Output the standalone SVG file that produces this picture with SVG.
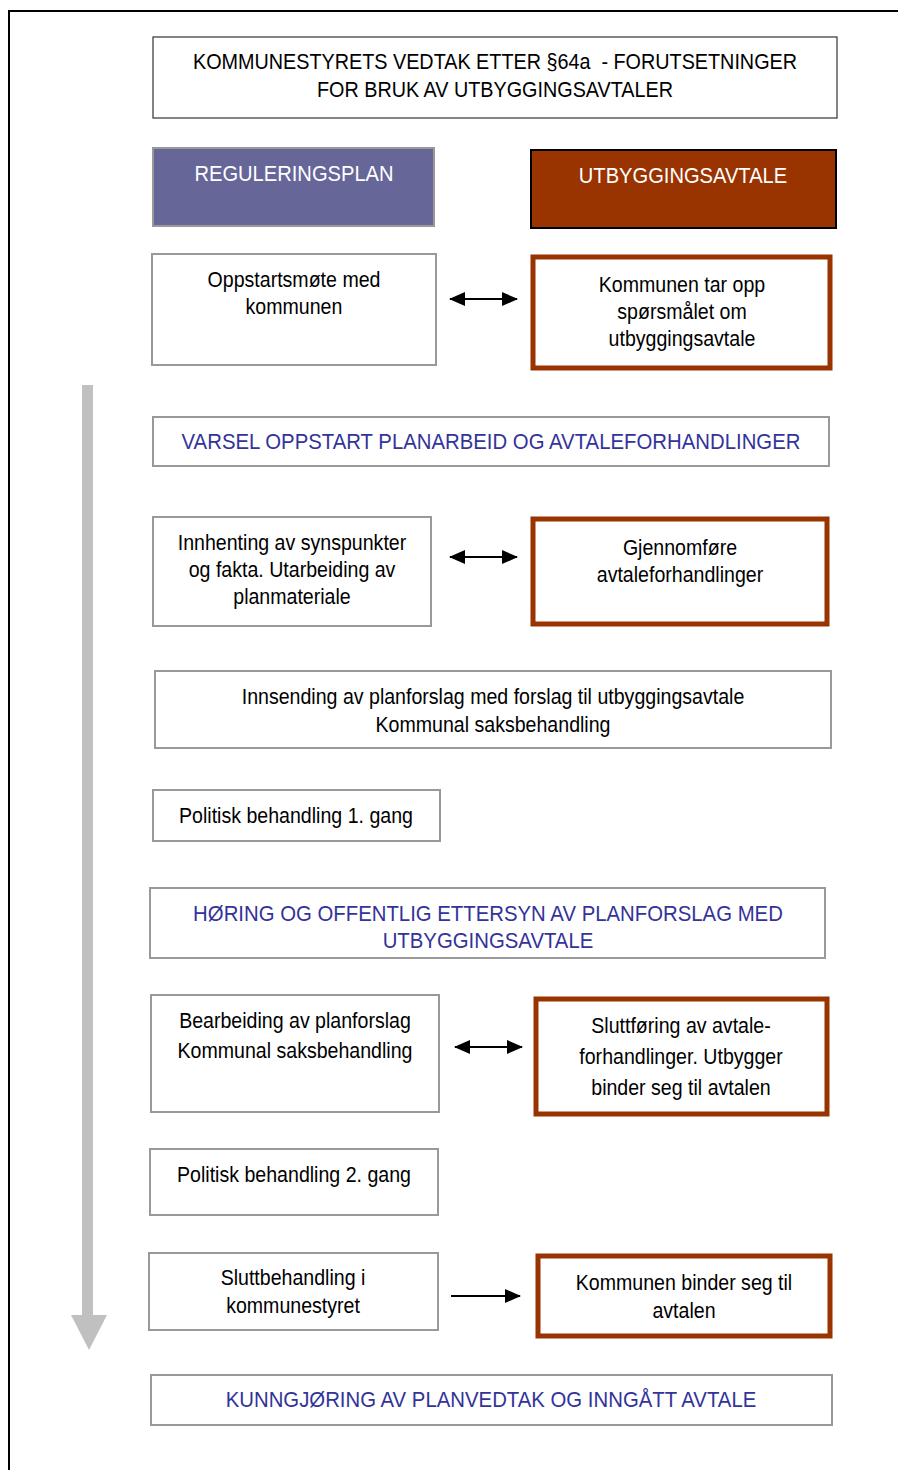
<svg xmlns="http://www.w3.org/2000/svg" width="898" height="1470" viewBox="0 0 898 1470">
<style>
text{font-family:"Liberation Sans",Arial,sans-serif;font-size:22px;text-anchor:middle;fill:#000;transform-box:fill-box;transform-origin:center;transform:scaleX(0.89)}
text.cap{transform:scaleX(0.915)}
text.ttl{transform:scaleX(0.9)}
text.blue{fill:#333399;transform:scaleX(0.925)}
.plain{fill:#fff;stroke:#999;stroke-width:2}
.title{fill:#fff;stroke:#333;stroke-width:1.2}
.avt{fill:#fff;stroke:#993300;stroke-width:5}
.wh{fill:#fff}
.conn{stroke:#000;stroke-width:2;fill:none}
</style>
<defs>
<marker id="ah" viewBox="0 0 16 14" refX="15" refY="7" markerWidth="16" markerHeight="14" markerUnits="userSpaceOnUse" orient="auto-start-reverse">
<path d="M0,0 L16,7 L0,14 z" fill="#000"/>
</marker>
</defs>
<rect width="898" height="1470" fill="#fff"/>
<path d="M9,1470 V11 H898" fill="none" stroke="#000" stroke-width="2"/>
<g id="timeline">
<rect x="82" y="385" width="11" height="932" fill="#c0c0c0"/>
<path d="M71,1315 H107 L89,1350 z" fill="#c0c0c0"/>
</g>
<g id="n-title"><rect class="title" x="153" y="37" width="684" height="81"/><text class="ttl" x="495" y="69">KOMMUNESTYRETS VEDTAK ETTER §64a&#160; - FORUTSETNINGER</text><text class="ttl" x="495" y="97">FOR BRUK AV UTBYGGINGSAVTALER</text></g>
<g id="n-reg"><rect x="153" y="148" width="281" height="78" fill="#666699" stroke="#999" stroke-width="2"/><text class="cap wh" x="294" y="181">REGULERINGSPLAN</text></g>
<g id="n-utb"><rect x="531" y="150" width="305" height="78" fill="#993300" stroke="#000" stroke-width="2"/><text class="cap wh" x="683" y="183">UTBYGGINGSAVTALE</text></g>
<g id="n-opp"><rect class="plain" x="152" y="254" width="284" height="111"/><text x="294" y="287">Oppstartsmøte med</text><text x="294" y="314">kommunen</text></g>
<g id="n-komtar"><rect class="avt" x="533" y="257" width="297" height="111"/><text x="682" y="292">Kommunen tar opp</text><text x="682" y="319">spørsmålet om</text><text x="682" y="346">utbyggingsavtale</text></g>
<g id="n-varsel"><rect class="plain" x="153" y="417" width="676" height="49"/><text class="blue" x="491" y="449">VARSEL OPPSTART PLANARBEID OG AVTALEFORHANDLINGER</text></g>
<g id="n-innh"><rect class="plain" x="153" y="517" width="278" height="109"/><text x="292" y="550">Innhenting av synspunkter</text><text x="292" y="577">og fakta. Utarbeiding av</text><text x="292" y="604">planmateriale</text></g>
<g id="n-gjen"><rect class="avt" x="533" y="519" width="294" height="105"/><text x="680" y="555">Gjennomføre</text><text x="680" y="582">avtaleforhandlinger</text></g>
<g id="n-innsend"><rect class="plain" x="155" y="671" width="676" height="77"/><text x="493" y="704">Innsending av planforslag med forslag til utbyggingsavtale</text><text x="493" y="732">Kommunal saksbehandling</text></g>
<g id="n-pol1"><rect class="plain" x="153" y="790" width="287" height="51"/><text x="296" y="823">Politisk behandling 1. gang</text></g>
<g id="n-horing"><rect class="plain" x="150" y="888" width="675" height="70"/><text class="blue" x="488" y="921">HØRING OG OFFENTLIG ETTERSYN AV PLANFORSLAG MED</text><text class="blue" x="488" y="948">UTBYGGINGSAVTALE</text></g>
<g id="n-bear"><rect class="plain" x="151" y="995" width="288" height="117"/><text x="295" y="1028">Bearbeiding av planforslag</text><text x="295" y="1058">Kommunal saksbehandling</text></g>
<g id="n-sluttf"><rect class="avt" x="536" y="999" width="291" height="115"/><text x="681" y="1033">Sluttføring av avtale-</text><text x="681" y="1064">forhandlinger. Utbygger</text><text x="681" y="1095">binder seg til avtalen</text></g>
<g id="n-pol2"><rect class="plain" x="150" y="1149" width="288" height="66"/><text x="294" y="1182">Politisk behandling 2. gang</text></g>
<g id="n-sluttb"><rect class="plain" x="149" y="1253" width="289" height="77"/><text x="293" y="1285">Sluttbehandling i</text><text x="293" y="1313">kommunestyret</text></g>
<g id="n-binder"><rect class="avt" x="538" y="1256" width="292" height="80"/><text x="684" y="1290">Kommunen binder seg til</text><text x="684" y="1318">avtalen</text></g>
<g id="n-kunn"><rect class="plain" x="151" y="1375" width="681" height="50"/><text class="blue" x="491" y="1407">KUNNGJØRING AV PLANVEDTAK OG INNGÅTT AVTALE</text></g>
<g id="connectors">
<line class="conn" x1="450" y1="299" x2="517" y2="299" marker-start="url(#ah)" marker-end="url(#ah)"/>
<line class="conn" x1="450" y1="557" x2="517" y2="557" marker-start="url(#ah)" marker-end="url(#ah)"/>
<line class="conn" x1="455" y1="1047" x2="522" y2="1047" marker-start="url(#ah)" marker-end="url(#ah)"/>
<line class="conn" x1="451" y1="1296" x2="520" y2="1296" marker-end="url(#ah)"/>
</g>
</svg>
